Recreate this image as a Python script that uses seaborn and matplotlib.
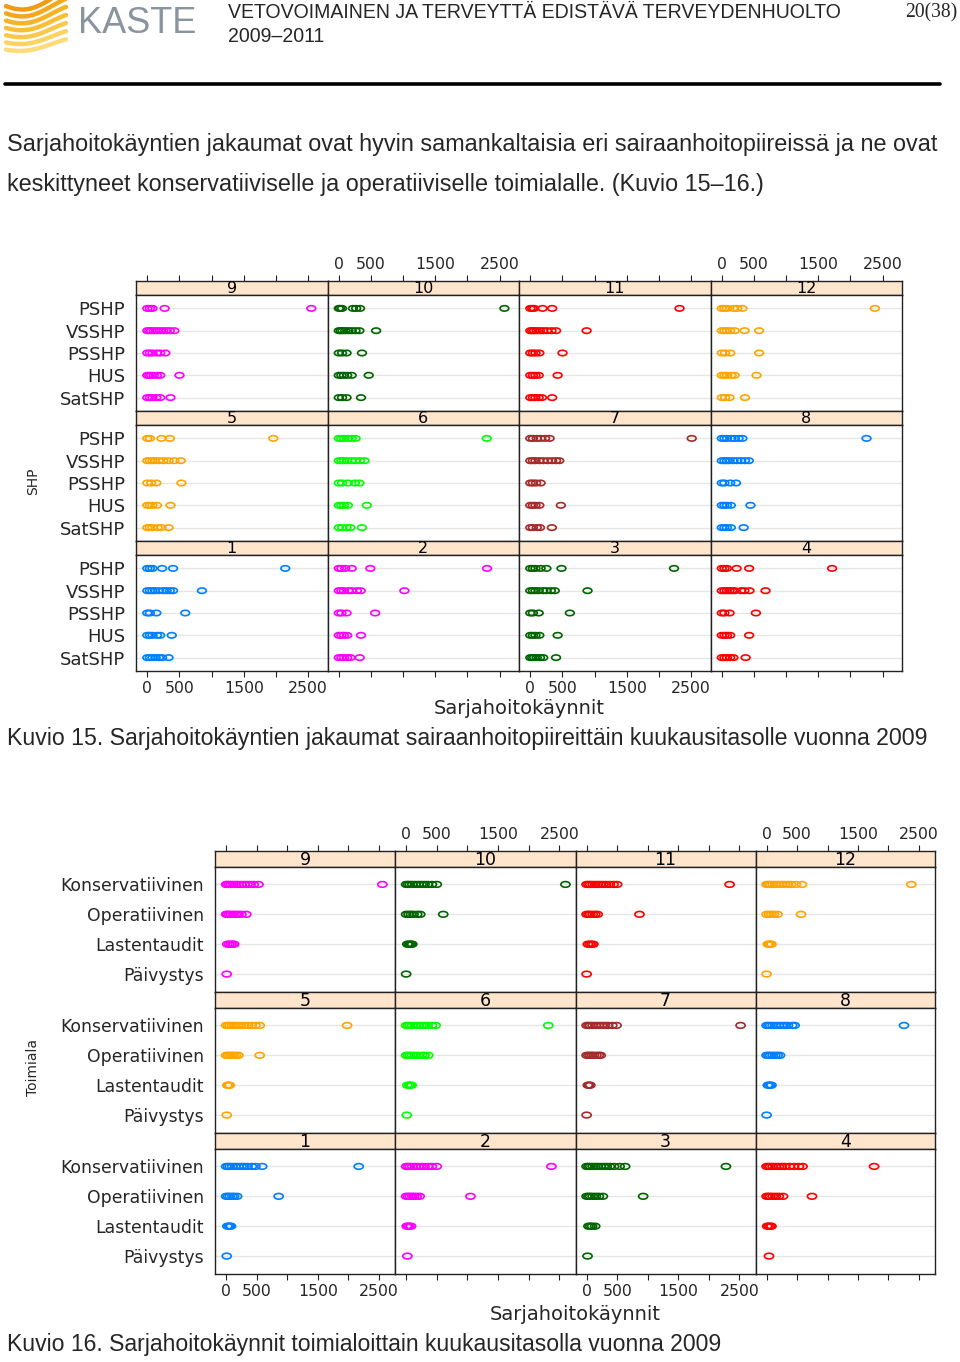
import numpy as np
import pandas as pd
import matplotlib
matplotlib.use("Agg")
import matplotlib.pyplot as plt
import seaborn as sns
from matplotlib.path import Path
from matplotlib.markers import MarkerStyle
from matplotlib.lines import Line2D

# ---------------- data (Sarjahoitokäynnit per unit) ----------------
SHP_ROWS = ["PSHP", "VSSHP", "PSSHP", "HUS", "SatSHP"]
TOIMIALA_ROWS = ["Konservatiivinen", "Operatiivinen", "Lastentaudit", "Päivystys"]
MONTH_LAYOUT = [[9, 10, 11, 12], [5, 6, 7, 8], [1, 2, 3, 4]]
TICKS = [0, 500, 1000, 1500, 2000, 2500]
TICK_LABELS = ["0", "500", "", "1500", "", "2500"]
MONTH_COLORS = ["#0080ff", "#ff00ff", "#006400", "#ff0000", "#ffa500", "#00ff00", "#a52a2a"]

# Kuvio 15: rows PSHP, VSSHP, PSSHP, HUS, SatSHP
shp_m01 = [[0, 40, 80, 230, 400, 2145], [0, 40, 80, 120, 180, 250, 300, 350, 400, 850],
           [0, 40, 140, 590], [0, 40, 80, 150, 200, 380], [0, 40, 80, 130, 180, 230, 330]]
shp_m02 = [[0, 40, 100, 200, 490, 2305], [0, 40, 80, 150, 200, 280, 340, 1020],
           [0, 40, 120, 565], [0, 40, 80, 130, 345], [0, 40, 80, 130, 180, 325]]
shp_m03 = [[0, 40, 80, 160, 250, 485, 2235], [0, 40, 80, 130, 200, 250, 320, 380, 890],
           [0, 40, 130, 615], [0, 40, 80, 140, 425], [0, 30, 60, 100, 150, 200, 400]]
shp_m04 = [[0, 40, 80, 230, 425, 1715], [0, 40, 80, 120, 160, 200, 300, 350, 430, 680],
           [0, 40, 120, 530], [0, 40, 80, 130, 425], [0, 40, 80, 130, 180, 370]]
shp_m05 = [[0, 40, 220, 350, 1960], [0, 40, 80, 120, 180, 250, 330, 420, 520],
           [0, 60, 140, 530], [0, 40, 80, 150, 360], [0, 40, 80, 160, 220, 330]]
shp_m06 = [[0, 40, 80, 150, 200, 260, 2300], [0, 40, 80, 130, 200, 260, 330, 400],
           [0, 50, 140, 250, 320], [0, 40, 80, 140, 435], [0, 50, 120, 180, 360]]
shp_m07 = [[0, 40, 100, 160, 230, 300, 2510], [0, 40, 80, 140, 200, 270, 340, 400, 450],
           [0, 40, 90, 160], [0, 40, 80, 140, 475], [0, 40, 100, 150, 335]]
shp_m08 = [[0, 40, 80, 150, 200, 260, 320, 2250], [0, 40, 80, 120, 180, 240, 300, 360, 420],
           [0, 40, 130, 220], [0, 40, 80, 140, 445], [0, 40, 80, 140, 340]]
shp_m09 = [[0, 40, 80, 270, 2550], [0, 30, 60, 100, 150, 200, 250, 300, 350, 420],
           [0, 40, 80, 150, 200, 280], [0, 30, 60, 100, 150, 200, 500], [0, 40, 80, 140, 200, 360]]
shp_m10 = [[0, 20, 50, 220, 270, 330, 2575], [0, 30, 60, 100, 150, 200, 260, 320, 580],
           [0, 50, 120, 360], [0, 40, 80, 130, 200, 465], [0, 50, 120, 345]]
shp_m11 = [[0, 30, 60, 190, 340, 2320], [0, 30, 60, 100, 150, 200, 260, 330, 400, 875],
           [0, 40, 80, 140, 500], [0, 40, 80, 130, 425], [0, 40, 80, 130, 180, 340]]
shp_m12 = [[0, 40, 80, 180, 240, 320, 2380], [0, 40, 80, 130, 200, 355, 580],
           [0, 50, 130, 580], [0, 40, 80, 150, 200, 540], [0, 50, 120, 360]]

# Kuvio 16: rows Konservatiivinen, Operatiivinen, Lastentaudit, Päivystys
tmi_m01 = [[0, 30, 60, 100, 150, 200, 250, 300, 350, 420, 480, 590, 2170],
           [0, 30, 60, 100, 130, 180, 860], [20, 40, 60, 80], [10]]
tmi_m02 = [[0, 30, 60, 100, 150, 200, 250, 300, 360, 420, 500, 2370],
           [0, 30, 60, 100, 130, 170, 220, 1050], [10, 30, 50, 80], [20]]
tmi_m03 = [[0, 30, 60, 100, 140, 180, 230, 280, 330, 380, 450, 540, 630, 2280],
           [0, 30, 60, 100, 150, 200, 265, 925], [30, 60, 90, 140], [15]]
tmi_m04 = [[0, 30, 60, 100, 150, 200, 250, 300, 380, 450, 530, 590, 1765],
           [0, 30, 60, 100, 150, 200, 270, 745], [10, 30, 60, 80], [40]]
tmi_m05 = [[0, 30, 60, 100, 140, 190, 240, 300, 360, 420, 480, 550, 1980],
           [0, 30, 60, 90, 120, 160, 200, 550], [20, 40, 60], [10]]
tmi_m06 = [[0, 30, 60, 100, 150, 200, 250, 300, 350, 420, 480, 2320],
           [0, 30, 60, 100, 150, 200, 260, 300, 360], [20, 50, 70, 90], [10]]
tmi_m07 = [[0, 30, 60, 100, 150, 200, 250, 300, 350, 420, 490, 2520],
           [0, 30, 60, 90, 120, 160, 200, 230], [20, 40, 60], [0]]
tmi_m08 = [[0, 30, 60, 100, 150, 200, 250, 300, 350, 420, 460, 2255],
           [0, 30, 60, 100, 140, 180, 220], [20, 40, 60, 80], [0]]
tmi_m09 = [[0, 20, 50, 80, 120, 160, 200, 250, 300, 350, 400, 450, 530, 2557],
           [0, 20, 50, 80, 120, 160, 200, 250, 330], [20, 50, 80, 110, 130], [10]]
tmi_m10 = [[0, 30, 60, 100, 150, 200, 250, 300, 350, 420, 500, 2600],
           [0, 40, 80, 120, 180, 230, 605], [20, 40, 60, 80, 100], [0]]
tmi_m11 = [[0, 30, 60, 100, 140, 180, 220, 270, 320, 380, 440, 500, 2340],
           [0, 30, 60, 100, 140, 180, 865], [20, 50, 80, 110], [0]]
tmi_m12 = [[0, 30, 60, 100, 150, 200, 250, 300, 350, 400, 480, 580, 2375],
           [0, 40, 80, 120, 180, 565], [20, 40, 60, 80], [0]]

shp_data = [shp_m01, shp_m02, shp_m03, shp_m04, shp_m05, shp_m06,
            shp_m07, shp_m08, shp_m09, shp_m10, shp_m11, shp_m12]
tmi_data = [tmi_m01, tmi_m02, tmi_m03, tmi_m04, tmi_m05, tmi_m06,
            tmi_m07, tmi_m08, tmi_m09, tmi_m10, tmi_m11, tmi_m12]

# ---------------- figure ----------------
sns.set_theme(style="white")
plt.rcParams["font.family"] = ["DejaVu Sans"]

W, H = 960, 1362
fig = plt.figure(figsize=(W / 100, H / 100), dpi=100)
renderer = fig.canvas.get_renderer()


def fx(x):
    return x / W


def fy(y):
    return 1 - y / H


def fit_text(x, y, s, width, size=12, **kw):
    t = fig.text(fx(x), fy(y), s, fontsize=size, **kw)
    w = t.get_window_extent(renderer=renderer).width
    t.set_fontsize(size * width / w)
    return t


circ = Path.unit_circle()
ELL = MarkerStyle(Path(circ.vertices * np.array([1.0, 0.62]), circ.codes))
EDGE = "#222222"


def lattice(data_list, rows, cols_x, strip_tops, strip_h, panel_h, xlim,
            row_size, strip_size, tick_size, msize):
    nrow = len(rows)
    ypos = np.arange(nrow, 0, -1)
    for r, months in enumerate(MONTH_LAYOUT):
        for c, m in enumerate(months):
            x0 = cols_x[c]
            w = cols_x[c + 1] - cols_x[c]
            st = strip_tops[r]
            ax_s = fig.add_axes([fx(x0), fy(st + strip_h), w / W, strip_h / H])
            ax = fig.add_axes([fx(x0), fy(st + strip_h + panel_h), w / W, panel_h / H])
            vals = data_list[m - 1]
            df = pd.DataFrame({
                "value": [v for row in vals for v in row],
                "ypos": [ypos[i] for i, row in enumerate(vals) for _ in row],
            })
            for yy in ypos:
                ax.axhline(yy, color="#e6e6e6", lw=1.0, zorder=0)
            color = MONTH_COLORS[(m - 1) % 7]
            sns.scatterplot(data=df, x="value", y="ypos", ax=ax, marker=ELL,
                            s=msize ** 2, facecolor="none", edgecolor=color,
                            linewidth=1.2, zorder=3, legend=False)
            ax.set_xlim(xlim)
            ax.set_ylim(0.4, nrow + 0.6)
            ax.set_xlabel("")
            ax.set_ylabel("")
            ax.set_facecolor("white")
            for sp in ax.spines.values():
                sp.set_color(EDGE)
                sp.set_linewidth(1.0)
            ax.set_xticks(TICKS)
            if r == len(MONTH_LAYOUT) - 1:
                ax.set_xticklabels(TICK_LABELS if c in (0, 2) else [""] * 6)
                ax.tick_params(axis="x", bottom=True, direction="out", length=4.5,
                               width=0.8, color=EDGE, labelsize=tick_size, pad=3)
            else:
                ax.tick_params(axis="x", bottom=False, labelbottom=False)
            if c == 0:
                ax.set_yticks(ypos)
                ax.set_yticklabels(rows)
                ax.tick_params(axis="y", left=False, length=0, labelsize=row_size, pad=8)
            else:
                ax.set_yticks([])
            # strip
            ax_s.set_facecolor("#ffe5cc")
            ax_s.set_xlim(xlim)
            ax_s.set_ylim(0, 1)
            ax_s.set_yticks([])
            for sp in ax_s.spines.values():
                sp.set_color(EDGE)
                sp.set_linewidth(1.0)
            ax_s.text(0.5, 0.45, str(m), transform=ax_s.transAxes, ha="center",
                      va="center", fontsize=strip_size, color="black")
            if r == 0:
                ax_s.set_xticks(TICKS)
                ax_s.set_xticklabels(TICK_LABELS if c in (1, 3) else [""] * 6)
                ax_s.xaxis.set_ticks_position("top")
                ax_s.tick_params(axis="x", top=True, bottom=False, labeltop=True,
                                 labelbottom=False, direction="out", length=4.5,
                                 width=0.8, color=EDGE, labelsize=tick_size, pad=2)
            else:
                ax_s.set_xticks([])


# Kuvio 15
lattice(shp_data, SHP_ROWS, [136, 327.5, 519, 710.5, 902], [281, 411, 541], 14, 116,
        (-176, 2802), 13, 11.5, 11.3, 6.3)
# Kuvio 16
lattice(tmi_data, TOIMIALA_ROWS, [215, 395, 575.5, 755.5, 935], [851, 992, 1133], 15.5, 125.5,
        (-182, 2764), 12.4, 12.5, 11.3, 6.6)

# axis titles
fig.text(fx(519), fy(708), "Sarjahoitokäynnit", ha="center", va="center", fontsize=14)
fig.text(fx(575), fy(1315), "Sarjahoitokäynnit", ha="center", va="center", fontsize=14)
fig.text(fx(33), fy(481), "SHP", ha="center", va="center", rotation=90, fontsize=10)
fig.text(fx(33), fy(1068), "Toimiala", ha="center", va="center", rotation=90, fontsize=10)

# ---------------- page texts ----------------
body = ["Liberation Sans", "DejaVu Sans"]
t1 = fit_text(7, 144, "Sarjahoitokäyntien jakaumat ovat hyvin samankaltaisia eri sairaanhoitopiireissä ja ne ovat",
              933, family=body, ha="left", va="center")
fs_body = t1.get_fontsize()
fig.text(fx(7), fy(185), "keskittyneet konservatiiviselle ja operatiiviselle toimialalle. (Kuvio 15–16.)",
         family=body, fontsize=fs_body, ha="left", va="center")
fit_text(7, 738, "Kuvio 15. Sarjahoitokäyntien jakaumat sairaanhoitopiireittäin kuukausitasolle vuonna 2009",
         926, family=body, ha="left", va="center")
fit_text(7, 1345, "Kuvio 16. Sarjahoitokäynnit toimialoittain kuukausitasolla vuonna 2009",
         721, family=body, ha="left", va="center")

narrow = ["Liberation Sans Narrow", "Liberation Sans", "DejaVu Sans"]
th = fit_text(228, 13, "VETOVOIMAINEN JA TERVEYTTÄ EDISTÄVÄ TERVEYDENHUOLTO", 614,
              family=narrow, ha="left", va="center")
fig.text(fx(228), fy(36), "2009–2011", family=narrow, fontsize=th.get_fontsize(),
         ha="left", va="center")
fit_text(905, 13, "20(38)", 52, family=["Liberation Serif", "DejaVu Serif"], ha="left", va="center")
fit_text(78, 33, "KASTE", 118, family=["Liberation Sans Narrow", "Liberation Sans"],
         color="#8a949e", ha="left", va="baseline")

# header rule
fig.add_artist(Line2D([fx(5), fx(940)], [fy(84), fy(84)], lw=2.6, color="black"))

# logo waves
ax_logo = fig.add_axes([fx(0), fy(62), 76 / W, 62 / H])
ax_logo.set_xlim(0, 76)
ax_logo.set_ylim(62, 0)
ax_logo.axis("off")
tt = np.linspace(0, 1, 60)
logo_cols = ["#f29a12", "#f4a718", "#f6b324", "#f8bf36", "#fac94c", "#fbd362", "#fcdc7a"]
for i, col in enumerate(logo_cols):
    xs = 6 + 60 * tt
    ys = 2 + i * 7.6 + 9 * np.sin(np.pi * (tt * 1.1 + 0.15)) * (1 - 0.08 * i) - 5 * tt
    ax_logo.plot(xs, ys, color=col, lw=3.2, solid_capstyle="round")

fig.savefig("out.png", dpi=100)
